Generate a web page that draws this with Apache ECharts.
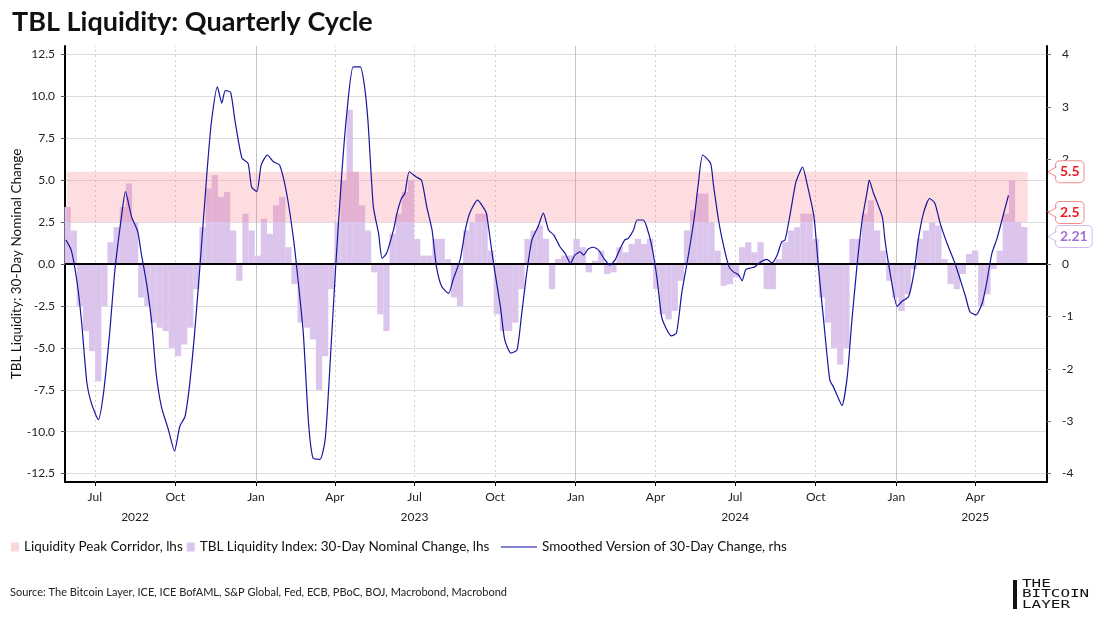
<!DOCTYPE html>
<html><head><meta charset="utf-8">
<script src="https://cdn.jsdelivr.net/npm/echarts@6/dist/echarts.min.js"></script>
<style>html,body{margin:0;padding:0;background:#fff}#c{width:1100px;height:642px}</style>
</head><body><div id="c"></div>
<script>
// ---------------- data ----------------
const startDate = '2022-05-28';            // first week of bar data
const barStepDays = 7;                      // weekly bars
const barValues = [
 3.4, 2.0,-2.5,-4.0,-5.2,-7.0,-2.5, 1.3, 2.2, 3.4, 4.8, 2.5,-2.0,-2.5,-3.5,-3.8,-4.0,-5.0,-5.5,-4.8,
-3.8,-1.5, 2.2, 4.5, 5.3, 4.0, 4.3, 2.0,-1.0, 3.0, 2.0, 0.5, 2.7, 1.8, 3.5, 4.0, 1.0,-1.2,-3.5,-3.8,
-4.5,-7.5,-5.5,-1.5, 2.5, 5.0, 9.2, 5.5, 3.5, 2.0,-0.5,-3.0,-4.0, 1.8, 3.0, 4.3, 5.0, 1.5, 0.5, 0.5,
 1.5, 1.5, 0.3,-2.0,-2.5, 2.0, 2.5, 3.0, 3.0, 0.8,-3.0,-4.0,-4.0,-3.5,-1.5, 1.5, 2.0, 2.3, 1.5,-1.5,
 0.3, 0.5, 0.5, 1.5, 1.0,-0.5, 0.2, 0.8,-0.6,-0.5, 1.0, 0.7, 1.2, 1.5, 1.2, 1.5,-1.5,-3.0,-3.3,-2.8,
-1.0, 2.0, 3.2, 4.2, 4.2, 2.5, 0.8,-1.3,-1.2,-0.8, 1.0, 1.3, 0.7, 1.3,-1.5,-1.5, 0.3, 1.3, 2.0, 2.2,
 3.0, 3.0, 1.5,-2.0,-3.5,-5.0,-6.0,-5.0, 1.5, 1.5, 3.0, 3.8, 2.0, 0.8,-1.0,-2.0,-2.8,-1.8,-0.3, 1.5,
 2.0, 2.5, 2.3, 0.3,-1.2,-1.5,-0.6, 0.6, 0.8,-2.5,-1.8,-0.3, 0.8, 3.0, 5.0, 2.5, 2.21
];
// smoothed line: days since startDate, value (rhs)
const lineDays = [
 1,7,11,15,19,25,30,38,44,51,57,65,69,76,83,87,93,99,104,110,118,125,131,137,142,148,154,162,167,174,
 179,183,189,194,202,209,213,219,224,231,238,245,253,261,266,272,278,283,291,297,302,309,316,322,329,337,342,346,352,358,
 362,367,375,379,384,388,393,401,407,413,419,424,430,438,443,451,457,462,471,476,481,487,491,497,502,509,516,521,527,533,
 540,546,552,558,565,571,577,582,588,592,597,603,609,615,622,628,634,639,643,649,653,660,664,670,676,681,686,692,698,704,
 710,718,723,728,737,740,746,752,758,763,769,773,777,782,788,794,801,807,813,818,822,828,834,839,842,847,855,860,866,873,
 877,882,887,893,898,904,910,916,918,923,933,936,942,950,955,963,969,974,980,987,993,999,1007,1016,1022,1028,1033,1040,1047,1052,
 1058,1064,1071,1077
];
const lineValues = [
 0.46,0.27,-0.05,-0.50,-1.12,-2.27,-2.65,-2.97,-2.46,-1.31,-0.11,0.97,1.38,0.90,0.62,0.21,-0.36,-1.12,-2.08,-2.72,-3.16,-3.57,-3.10,-2.91,-2.34,-1.31,-0.05,1.73,2.69,3.38,
 3.07,3.31,3.28,2.74,2.02,1.92,1.47,1.38,1.89,2.08,1.95,1.89,1.35,0.46,-0.30,-1.31,-3.03,-3.70,-3.73,-3.35,-2.08,-0.05,1.73,2.93,3.76,3.76,3.38,2.69,1.09,0.58,
 0.11,0.20,0.65,0.97,1.25,1.35,1.76,1.66,1.60,1.09,0.65,-0.05,-0.43,-0.56,-0.30,0.08,0.65,0.97,1.22,1.12,0.97,0.27,-0.18,-0.81,-1.45,-1.70,-1.64,-1.00,-0.18,0.46,
 0.71,0.97,0.65,0.55,0.33,0.20,0.01,0.17,0.23,0.17,0.28,0.32,0.27,0.11,-0.02,0.08,0.30,0.46,0.49,0.65,0.84,0.84,0.71,0.33,-0.30,-1.00,-1.22,-1.37,-1.32,-0.56,
 0.01,0.84,1.54,2.08,1.92,1.54,0.84,0.33,-0.05,-0.15,-0.21,-0.32,-0.11,-0.08,-0.05,0.04,0.09,0.02,0.17,0.42,0.46,0.97,1.54,1.76,1.85,1.54,0.90,-0.05,-1.07,-2.21,
 -2.34,-2.53,-2.70,-2.15,-1.13,-0.05,0.84,1.41,1.60,1.35,0.90,0.46,-0.18,-0.81,-0.72,-0.62,-0.18,0.46,0.97,1.25,1.16,0.78,0.39,0.01,-0.30,-0.62,-0.91,-0.97,-0.75,-0.37,
 0.20,0.49,0.93,1.31
];
const corridorLow = 2.5;
const corridorHigh = 5.5;
const corridorDates = ['2022-05-30', '2025-05-31'];
const latestValue = 2.21;
const leftTicks = [-12.5,-10,-7.5,-5,-2.5,0,2.5,5,7.5,10,12.5];
const rightTicks = [-4,-3,-2,-1,0,1,2,3,4];
const xRange = ['2022-05-28', '2025-06-22'];
const quarterTicks = ['2022-07-01','2022-10-01','2023-01-01','2023-04-01','2023-07-01','2023-10-01',
  '2024-01-01','2024-04-01','2024-07-01','2024-10-01','2025-01-01','2025-04-01'];
const yearLabels = ['2022','2023','2024','2025'];
const yearLabelDates = ['2022-08-16','2023-07-01','2024-07-01','2025-04-01'];
const monthNames = ['Jan','Feb','Mar','Apr','May','Jun','Jul','Aug','Sep','Oct','Nov','Dec'];

// ---------------- helpers ----------------
const DAY = 86400000;
function ts(s){ const p = s.split('-').map(Number); return Date.UTC(p[0], p[1]-1, p[2]); }
const t0 = ts(startDate);
const barData = barValues.map((v,k) => [t0 + (k*barStepDays + 3)*DAY, v]);
const lineData = lineDays.map((d,i) => [t0 + d*DAY, lineValues[i]]);
const cStart = ts(corridorDates[0]), cEnd = ts(corridorDates[1]);
const qTs = quarterTicks.map(ts);
const yTs = yearLabelDates.map(ts);
const FONT = 'Lato, "Noto Sans", sans-serif';
const rightMax = 13 / 12.5 * 4;

const NAME_C = 'Liquidity Peak Corridor, lhs';
const NAME_B = 'TBL Liquidity Index: 30-Day Nominal Change, lhs';
const NAME_L = 'Smoothed Version of 30-Day Change, rhs';

function yearOf(v){ const i = yTs.findIndex(t => Math.abs(t - v) < DAY); return i >= 0 ? yearLabels[i] : ''; }

const chart = echarts.init(document.getElementById('c'), null, {renderer: 'canvas'});
const option = {
  animation: false,
  backgroundColor: '#fff',
  textStyle: {fontFamily: FONT},
  title: {text: 'TBL Liquidity: Quarterly Cycle', left: 7, top: 4,
    textStyle: {fontFamily: FONT, fontSize: 27, fontWeight: 'bold', color: '#111'}},
  grid: {left: 65, right: 53, top: 46, bottom: 160, containLabel: false, outerBoundsMode: 'none'},
  legend: [
    {data: [{name: NAME_C, icon: 'rect', itemStyle: {color: '#fcd7da'}},
            {name: NAME_B, icon: 'rect', itemStyle: {color: '#dcc5ec'}}],
     left: 6, top: 535, itemWidth: 8, itemHeight: 9, itemGap: 4, selectedMode: false,
     textStyle: {fontFamily: FONT, fontSize: 13.5, color: '#111'}},
    {data: [{name: NAME_L, icon: 'rect', itemStyle: {color: '#5c5cc8'}}],
     left: 496, top: 535, itemWidth: 36, itemHeight: 1.6, itemGap: 4, selectedMode: false,
     textStyle: {fontFamily: FONT, fontSize: 13.5, color: '#111'}}
  ],
  xAxis: [
    {type: 'value', min: ts(xRange[0]), max: ts(xRange[1]), scale: true,
     axisLine: {show: true, onZero: false, lineStyle: {color: '#000', width: 2}},
     axisTick: {show: true, customValues: qTs, length: 4, lineStyle: {color: '#000'}},
     axisLabel: {customValues: qTs, margin: 9, fontSize: 12, color: '#222', fontFamily: FONT,
       formatter: v => monthNames[new Date(v).getUTCMonth()]},
     splitLine: {show: false}},
    {type: 'value', min: ts(xRange[0]), max: ts(xRange[1]), scale: true, position: 'bottom', offset: 20,
     axisLine: {show: false, onZero: false}, axisTick: {show: false, customValues: yTs},
     axisLabel: {customValues: yTs, margin: 9, fontSize: 12, color: '#222', fontFamily: FONT,
       formatter: v => yearOf(v)},
     splitLine: {show: false}}
  ],
  yAxis: [
    {type: 'value', min: -13, max: 13, position: 'left',
     name: 'TBL Liquidity: 30-Day Nominal Change', nameLocation: 'middle', nameGap: 41,
     nameMoveOverlap: false,
     nameTextStyle: {fontFamily: FONT, fontSize: 13.5, color: '#111'},
     axisLine: {show: true, onZero: false, lineStyle: {color: '#000', width: 2}},
     axisTick: {show: true, customValues: leftTicks, length: 4, lineStyle: {color: '#555'}},
     axisLabel: {customValues: leftTicks, fontSize: 12, color: '#222', fontFamily: FONT, margin: 10,
       formatter: v => v.toFixed(1)},
     splitLine: {show: true, lineStyle: {color: '#dcdcdc', width: 1}}},
    {type: 'value', min: -rightMax, max: rightMax, position: 'right',
     axisLine: {show: true, onZero: false, lineStyle: {color: '#000', width: 2}},
     axisTick: {show: true, customValues: rightTicks, length: 4, lineStyle: {color: '#777'}},
     axisLabel: {customValues: rightTicks, fontSize: 12, color: '#222', fontFamily: FONT, margin: 15,
       formatter: v => String(Math.round(v))},
     splitLine: {show: false}}
  ],
  series: [
    {name: NAME_C, type: 'line', xAxisIndex: 0, yAxisIndex: 0, data: [], z: 4, silent: true,
     itemStyle: {color: '#fcd7da'}, lineStyle: {opacity: 0}, showSymbol: false,
     markArea: {silent: true, z: 4, itemStyle: {color: 'rgba(250,120,135,0.25)'},
       data: [[{xAxis: cStart, yAxis: corridorLow}, {xAxis: cEnd, yAxis: corridorHigh}]]},
     markLine: {silent: true, symbol: ['none','none'], label: {show: false}, z: 1,
       data: qTs.map(t => ({xAxis: t, lineStyle: new Date(t).getUTCMonth() === 0
          ? {color: '#c4c4c4', width: 1, type: 'solid'}
          : {color: '#cfcfcf', width: 1, type: [2, 3]}}))}},
    {name: NAME_B, type: 'bar', xAxisIndex: 0, yAxisIndex: 0, data: barData, barWidth: 6.3,
     itemStyle: {color: '#dcc5ec'}, z: 2, silent: true,
     markLine: {silent: true, symbol: ['none','none'], label: {show: false}, z: 6,
       data: [{yAxis: 0, lineStyle: {color: '#000', width: 2, type: 'solid'}}]}},
    {name: NAME_L, type: 'line', xAxisIndex: 0, yAxisIndex: 1, data: lineData, showSymbol: false,
     smooth: 0.2, lineStyle: {color: '#17179e', width: 1.2}, itemStyle: {color: '#17179e'}, z: 7, silent: true}
  ],
  graphic: [
    {type: 'text', id: 'src', left: 10, top: 587,
     style: {text: 'Source: The Bitcoin Layer, ICE, ICE BofAML, S&P Global, Fed, ECB, PBoC, BOJ, Macrobond, Macrobond',
       font: '11px ' + FONT, fill: '#222'}},
    {type: 'rect', id: 'logoBar', shape: {x: 1013, y: 580, width: 4, height: 29}, style: {fill: '#111'}},
    {type: 'text', id: 'logoTxt', x: 1022, y: 579, scaleX: 1.45,
     style: {text: 'THE\nBITCOIN\nLAYER', font: '11px "DejaVu Sans Mono", monospace', lineHeight: 10.3, fill: '#111'}}
  ]
};
chart.setOption(option);

// -------- right-hand value callouts (positions from the library's scale) --------
const callouts = [
  {value: corridorHigh, text: String(corridorHigh), color: '#ec1c24', border: '#f28a8a'},
  {value: corridorLow, text: String(corridorLow), color: '#ec1c24', border: '#f28a8a'},
  {value: latestValue, text: String(latestValue), color: '#a472d6', border: '#d5b8ef'}
];
const H = 24;
callouts.forEach(c => { c.y = chart.convertToPixel({yAxisIndex: 0}, c.value); });
callouts.sort((a,b) => a.y - b.y);
let groups = callouts.map(c => ({items: [c], mean: c.y}));
let changed = true;
while (changed) {
  changed = false;
  for (let i = 0; i < groups.length - 1; i++) {
    const a = groups[i], b = groups[i+1];
    const aBottom = a.mean + a.items.length * H / 2;
    const bTop = b.mean - b.items.length * H / 2;
    if (aBottom > bTop) {
      const items = a.items.concat(b.items);
      const mean = items.reduce((s,c) => s + c.y, 0) / items.length;
      groups.splice(i, 2, {items, mean});
      changed = true; break;
    }
  }
}
groups.forEach(g => g.items.forEach((c, i) => { c.cy = g.mean + (i - (g.items.length - 1) / 2) * H; }));
const axisX = chart.convertToPixel({xAxisIndex: 0}, ts(xRange[1]));
const tipX = axisX + 1, boxX = axisX + 9;
const extra = [];
callouts.forEach((c, i) => {
  extra.push({type: 'text', id: 'co_t' + i, x: boxX, y: c.cy, z: 100,
    style: {text: c.text, font: 'bold 14px ' + FONT, fill: c.color, verticalAlign: 'middle', align: 'left',
      backgroundColor: '#fff', borderColor: c.border, borderWidth: 1, borderRadius: 4, padding: [4, 4, 3, 4]}});
  extra.push({type: 'polygon', id: 'co_f' + i, z: 101,
    shape: {points: [[tipX, c.cy], [boxX + 1, c.cy - 5], [boxX + 1, c.cy + 5]]}, style: {fill: '#fff'}});
  extra.push({type: 'polyline', id: 'co_s' + i, z: 102,
    shape: {points: [[boxX + 0.5, c.cy - 5], [tipX, c.cy], [boxX + 0.5, c.cy + 5]]},
    style: {stroke: c.border, lineWidth: 1, fill: null}});
});
chart.setOption({graphic: extra});
</script>
</body></html>
